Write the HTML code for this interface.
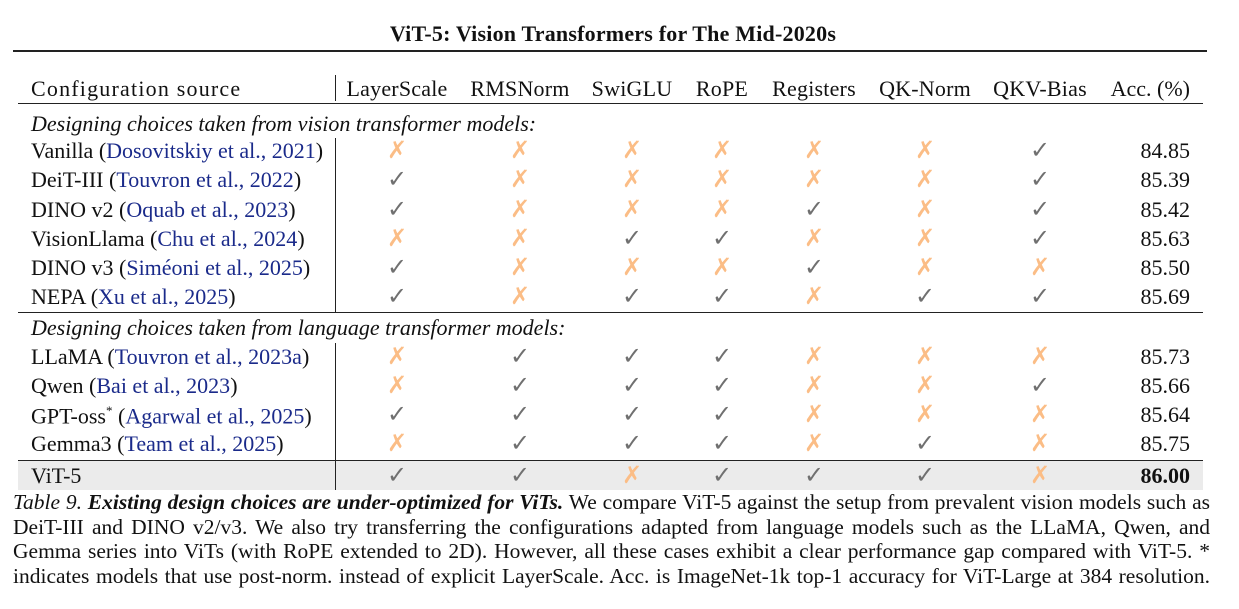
<!DOCTYPE html>
<html><head><meta charset="utf-8"><style>
body{margin:0;width:1239px;height:609px;background:#fff;position:relative;overflow:hidden;font-family:"Liberation Serif",serif;font-size:22px;letter-spacing:0;color:#111}
.a{position:absolute;white-space:nowrap;line-height:1}
.c{transform:translateX(-50%)}
.r{transform:translateX(-100%)}
.b{color:#1a2a8a}
.k{color:#707070;font-size:24px}
.x{color:#fbbd86;font-size:24px}
.hl{position:absolute;background:#222}
.cap{position:absolute;left:13px;width:1197px;text-align:justify;text-align-last:justify;line-height:24.5px;white-space:nowrap;font-size:21.5px;letter-spacing:0}
</style></head><body>
<div class="a c" style="left:613px;top:23px;font-weight:bold;letter-spacing:0.2px">ViT-5: Vision Transformers for The Mid-2020s</div>
<div class="hl" style="left:13px;top:50px;width:1194px;height:2px"></div>
<div class="hl" style="left:18px;top:103px;width:1185px;height:1px"></div>
<div class="hl" style="left:18px;top:312px;width:1185px;height:1px"></div>
<div style="position:absolute;left:18px;top:460px;width:1185px;height:30px;background:#ebebeb"></div>
<div class="hl" style="left:18px;top:460px;width:1185px;height:1px"></div>
<div class="hl" style="left:335px;top:75px;width:1px;height:26px"></div>
<div class="hl" style="left:335px;top:138px;width:1px;height:174px"></div>
<div class="hl" style="left:335px;top:343px;width:1px;height:147px"></div>
<div id="t"></div>
<div class="cap" style="top:490px"><i>Table 9.</i> <b><i>Existing design choices are under-optimized for ViTs.</i></b> We compare ViT-5 against the setup from prevalent vision models such as</div>
<div class="cap" style="top:514.5px">DeiT-III and DINO v2/v3. We also try transferring the configurations adapted from language models such as the LLaMA, Qwen, and</div>
<div class="cap" style="top:539px">Gemma series into ViTs (with RoPE extended to 2D). However, all these cases exhibit a clear performance gap compared with ViT-5. *</div>
<div class="cap" style="top:563.5px">indicates models that use post-norm. instead of explicit LayerScale. Acc. is ImageNet-1k top-1 accuracy for ViT-Large at 384 resolution.</div>
<script>
var cols=[397,520,632,722,814,925,1040];
var heads=["LayerScale","RMSNorm","SwiGLU","RoPE","Registers","QK-Norm","QKV-Bias"];
var h='';
h+='<div class="a" style="left:31px;top:78px;letter-spacing:1.2px">Configuration source</div>';
heads.forEach(function(s,i){h+='<div class="a c" style="left:'+cols[i]+'px;top:78px;letter-spacing:0.2px">'+s+'</div>'});
h+='<div class="a r" style="left:1190px;top:78px">Acc. (%)</div>';
h+='<div class="a" style="left:31px;top:113px"><i>Designing choices taken from vision transformer models:</i></div>';
h+='<div class="a" style="left:31px;top:317px"><i>Designing choices taken from language transformer models:</i></div>';
var rows=[
[140,'Vanilla (<span class="b">Dosovitskiy et al., 2021</span>)','0000001','84.85'],
[169,'DeiT-III (<span class="b">Touvron et al., 2022</span>)','1000001','85.39'],
[198.5,'DINO v2 (<span class="b">Oquab et al., 2023</span>)','1000101','85.42'],
[227.5,'VisionLlama (<span class="b">Chu et al., 2024</span>)','0011001','85.63'],
[256.5,'DINO v3 (<span class="b">Siméoni et al., 2025</span>)','1000100','85.50'],
[285.5,'NEPA (<span class="b">Xu et al., 2025</span>)','1011011','85.69'],
[345.5,'LLaMA (<span class="b">Touvron et al., 2023a</span>)','0111000','85.73'],
[374.5,'Qwen (<span class="b">Bai et al., 2023</span>)','0111001','85.66'],
[403.5,'GPT-oss<sup style="font-size:13px">*</sup> (<span class="b">Agarwal et al., 2025</span>)','1111000','85.64'],
[433,'Gemma3 (<span class="b">Team et al., 2025</span>)','0111010','85.75'],
[464.5,'ViT-5','1101110','<b>86.00</b>']];
rows.forEach(function(r){
h+='<div class="a" style="left:31px;top:'+r[0]+'px">'+r[1]+'</div>';
for(var i=0;i<7;i++){var on=r[2][i]=='1';h+='<div class="a c '+(on?'k':'x')+'" style="left:'+cols[i]+'px;top:'+(r[0]-1)+'px">'+(on?'✓':'✗')+'</div>';}
h+='<div class="a r" style="left:1190px;top:'+r[0]+'px">'+r[3]+'</div>';
});
document.getElementById('t').innerHTML=h;
</script>
</body></html>
